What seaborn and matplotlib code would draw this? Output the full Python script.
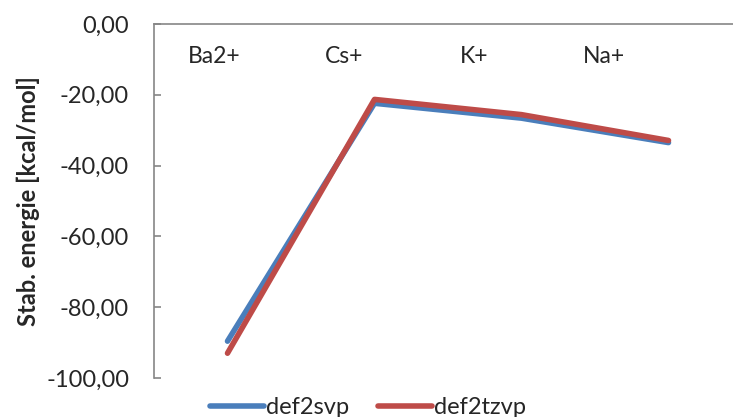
import matplotlib
matplotlib.use("Agg")
import matplotlib.pyplot as plt
import seaborn as sns
import pandas as pd
from matplotlib.ticker import FuncFormatter

# Stabilisation energies per cation for two basis sets
ions = ["Ba2+", "Cs+", "K+", "Na+"]
def2svp = [-89.6, -22.4, -26.6, -33.5]
def2tzvp = [-93.0, -21.3, -25.6, -32.9]
series_names = ["def2svp", "def2tzvp"]
y_ticks = [0, -20, -40, -60, -80, -100]

df = pd.DataFrame({
    "ion": ions * 2,
    "pos": list(range(len(ions))) * 2,
    "energy": def2svp + def2tzvp,
    "basis": [series_names[0]] * len(ions) + [series_names[1]] * len(ions),
})

sns.set_theme(style="white")
plt.rcParams["font.family"] = ["Lato", "DejaVu Sans"]

fig = plt.figure(figsize=(7.33, 4.17), dpi=100)
ax = fig.add_axes([154 / 733, 39 / 417, 588 / 733, 354 / 417])

palette = {"def2svp": "#4A7EBB", "def2tzvp": "#BE4B48"}
sns.lineplot(data=df, x="pos", y="energy", hue="basis", palette=palette,
             linewidth=4, ax=ax, legend=False, sort=False)
for ln in ax.lines:
    ln.set_solid_capstyle("round")

ax.set_xlim(-0.5, len(ions) - 0.5)
ax.set_ylim(-100, 0)

# Category axis crosses at zero, labels sit just below it
ax.xaxis.tick_top()
ax.set_xticks([-0.09, 0.79, 1.68, 2.56])
ax.set_xticklabels(ions, fontsize=16.5)
ax.tick_params(axis="x", length=0, top=True, pad=-31, direction="in")
ax.set_xlabel("")

ax.set_yticks(y_ticks)
ax.yaxis.set_major_formatter(FuncFormatter(lambda v, p: f"{v:.2f}".replace(".", ",")))
ax.tick_params(axis="y", direction="in", length=5, width=1.2, color="#868686",
               labelsize=17, pad=18, left=True)
ax.set_ylabel("Stab. energie [kcal/mol]", fontsize=17, fontweight="bold", labelpad=4)

for side in ["right", "bottom"]:
    ax.spines[side].set_visible(False)
for side in ["left", "top"]:
    ax.spines[side].set_color("#868686")
    ax.spines[side].set_linewidth(1.2)

# Legend below the plot area
handles = [plt.Line2D([], [], color=palette[n], lw=4, solid_capstyle="round") for n in series_names]
fig.legend(handles, series_names, loc="center", bbox_to_anchor=(368 / 733, 1 - 408 / 417),
           ncol=2, frameon=False, fontsize=17, handlelength=2.3, handletextpad=0.1,
           columnspacing=1.2)

fig.savefig("out.png", dpi=100)
